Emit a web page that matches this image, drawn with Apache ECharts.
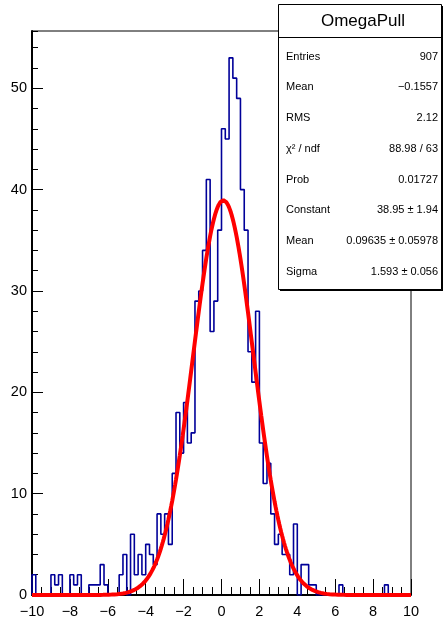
<!DOCTYPE html>
<html>
<head>
<meta charset="utf-8">
<script src="https://cdn.jsdelivr.net/npm/echarts@6/dist/echarts.min.js"></script>
<style>
  html, body { margin: 0; padding: 0; background: #fff; }
  #chart { width: 444px; height: 624px; }
</style>
</head>
<body>
<div id="chart"></div>
<script>
// ---------- data ----------
const histTitle = 'OmegaPull';
const xMin = -10;
const xMax = 10;
const binCounts = [
  2, 0, 0, 0, 0, 2, 1, 2, 0, 0,
  2, 1, 2, 0, 0, 1, 1, 1, 3, 1,
  0, 0, 0, 2, 4, 0, 6, 2, 4, 2,
  5, 4, 3, 8, 6, 8, 5, 12, 18, 14,
  19, 15, 16, 29, 30, 34, 41, 26, 29, 36,
  46, 45, 53, 51, 49, 40, 36, 24, 21, 28,
  15, 11, 13, 8, 5, 6, 4, 4, 2, 7,
  0, 3, 3, 1, 1, 0, 0, 0, 0, 0,
  0, 1, 0, 0, 0, 0, 0, 0, 0, 0,
  0, 0, 0, 1, 0, 0, 0, 0, 0, 0
];
const yMax = 55.65;
const xTickStep = 2;
const yTickStep = 10;
// fit (gaus) parameters as printed in the stats box
const fitConstant = 38.95;
const fitMean = 0.09635;
const fitSigma = 1.593;
const statNames = ['Entries', 'Mean', 'RMS', 'χ² / ndf', 'Prob', 'Constant', 'Mean', 'Sigma'];
const statValues = ['907', '\u22120.1557', '2.12', '88.98 / 63', '0.01727', '38.95 \u00b1 1.94', '0.09635 \u00b1 0.05978', '1.593 \u00b1 0.056'];

// ---------- build series ----------
const nBins = binCounts.length;
const binW = (xMax - xMin) / nBins;
const histPts = [[xMin, 0]];
binCounts.forEach((c, i) => histPts.push([xMin + i * binW, c]));
histPts.push([xMax, 0]);

const fitPts = [];
const nFit = 400;
for (let k = 0; k <= nFit; k++) {
  const x = xMin + (xMax - xMin) * k / nFit;
  const z = (x - fitMean) / fitSigma;
  fitPts.push([x, fitConstant * Math.exp(-0.5 * z * z)]);
}

const FONT = 'Liberation Sans, Arial, Helvetica, sans-serif';
const fmtNum = v => (v < 0 ? '\u2212' + Math.abs(v) : String(v));

// ---------- stats box graphics ----------
const bx = 278.5, by = 4.5, bw = 163, bh = 285;
const graphics = [
  { type: 'rect', z: 100, shape: { x: bx + 1.5, y: by + 1.5, width: bw, height: bh }, style: { fill: '#000' } },
  { type: 'rect', z: 101, shape: { x: bx, y: by, width: bw, height: bh }, style: { fill: '#fff', stroke: '#000', lineWidth: 1 } },
  { type: 'line', z: 102, shape: { x1: bx, y1: 37.5, x2: bx + bw, y2: 37.5 }, style: { stroke: '#000', lineWidth: 1 } },
  { type: 'text', z: 102, style: { text: histTitle, x: 363, y: 21.5, align: 'center', verticalAlign: 'middle', font: '17px ' + FONT, fill: '#000' } }
];
statNames.forEach((name, k) => {
  const y = 56.7 + 30.71 * k;
  graphics.push({ type: 'text', z: 102, style: { text: name, x: 286, y: y, align: 'left', verticalAlign: 'middle', font: '11px ' + FONT, fill: '#000' } });
  graphics.push({ type: 'text', z: 102, style: { text: statValues[k], x: 438, y: y, align: 'right', verticalAlign: 'middle', font: '11px ' + FONT, fill: '#000' } });
});

const chart = echarts.init(document.getElementById('chart'), null, { renderer: 'canvas' });
chart.setOption({
  animation: false,
  backgroundColor: '#fff',
  grid: { left: 32, right: 33, top: 31, bottom: 29, show: true, borderColor: '#000', borderWidth: 1, backgroundColor: 'transparent' },
  xAxis: [
    {
      type: 'value', min: xMin, max: xMax, interval: xTickStep, position: 'bottom',
      axisLine: { show: true, onZero: false, lineStyle: { color: '#000', width: 2 } },
      axisTick: { show: true, inside: true, length: 16, lineStyle: { color: '#000', width: 1 } },
      axisLabel: { show: true, margin: 9, color: '#000', fontSize: 14.5, fontFamily: FONT, formatter: fmtNum },
      splitLine: { show: false }
    },
    {
      type: 'value', min: xMin, max: xMax, interval: 0.5, position: 'bottom', offset: 0,
      axisLine: { show: false, onZero: false },
      axisTick: { show: true, inside: true, length: 8, lineStyle: { color: '#000', width: 1 } },
      axisLabel: { show: false },
      splitLine: { show: false }
    }
  ],
  yAxis: [
    {
      type: 'value', min: 0, max: yMax, interval: yTickStep, position: 'left',
      axisLine: { show: true, onZero: false, lineStyle: { color: '#000', width: 2 } },
      axisTick: { show: true, inside: true, length: 11, lineStyle: { color: '#000', width: 1 } },
      axisLabel: { show: true, margin: 5, color: '#000', fontSize: 14.5, fontFamily: FONT, showMaxLabel: false,
        formatter: v => (Math.abs(v / yTickStep - Math.round(v / yTickStep)) < 1e-6 ? String(v) : '') },
      splitLine: { show: false }
    },
    {
      type: 'value', min: 0, max: yMax, interval: 2, position: 'left', offset: 0,
      axisLine: { show: false, onZero: false },
      axisTick: { show: true, inside: true, length: 6, lineStyle: { color: '#000', width: 1 } },
      axisLabel: { show: false },
      splitLine: { show: false }
    }
  ],
  series: [
    {
      type: 'line', xAxisIndex: 0, yAxisIndex: 0, data: histPts, step: 'end',
      symbol: 'none', lineStyle: { color: '#000099', width: 1.6 }, z: 3
    },
    {
      type: 'line', xAxisIndex: 0, yAxisIndex: 0, data: fitPts, smooth: false,
      symbol: 'none', lineStyle: { color: '#ff0000', width: 4 }, z: 4
    }
  ],
  graphic: graphics
});
</script>
</body>
</html>
